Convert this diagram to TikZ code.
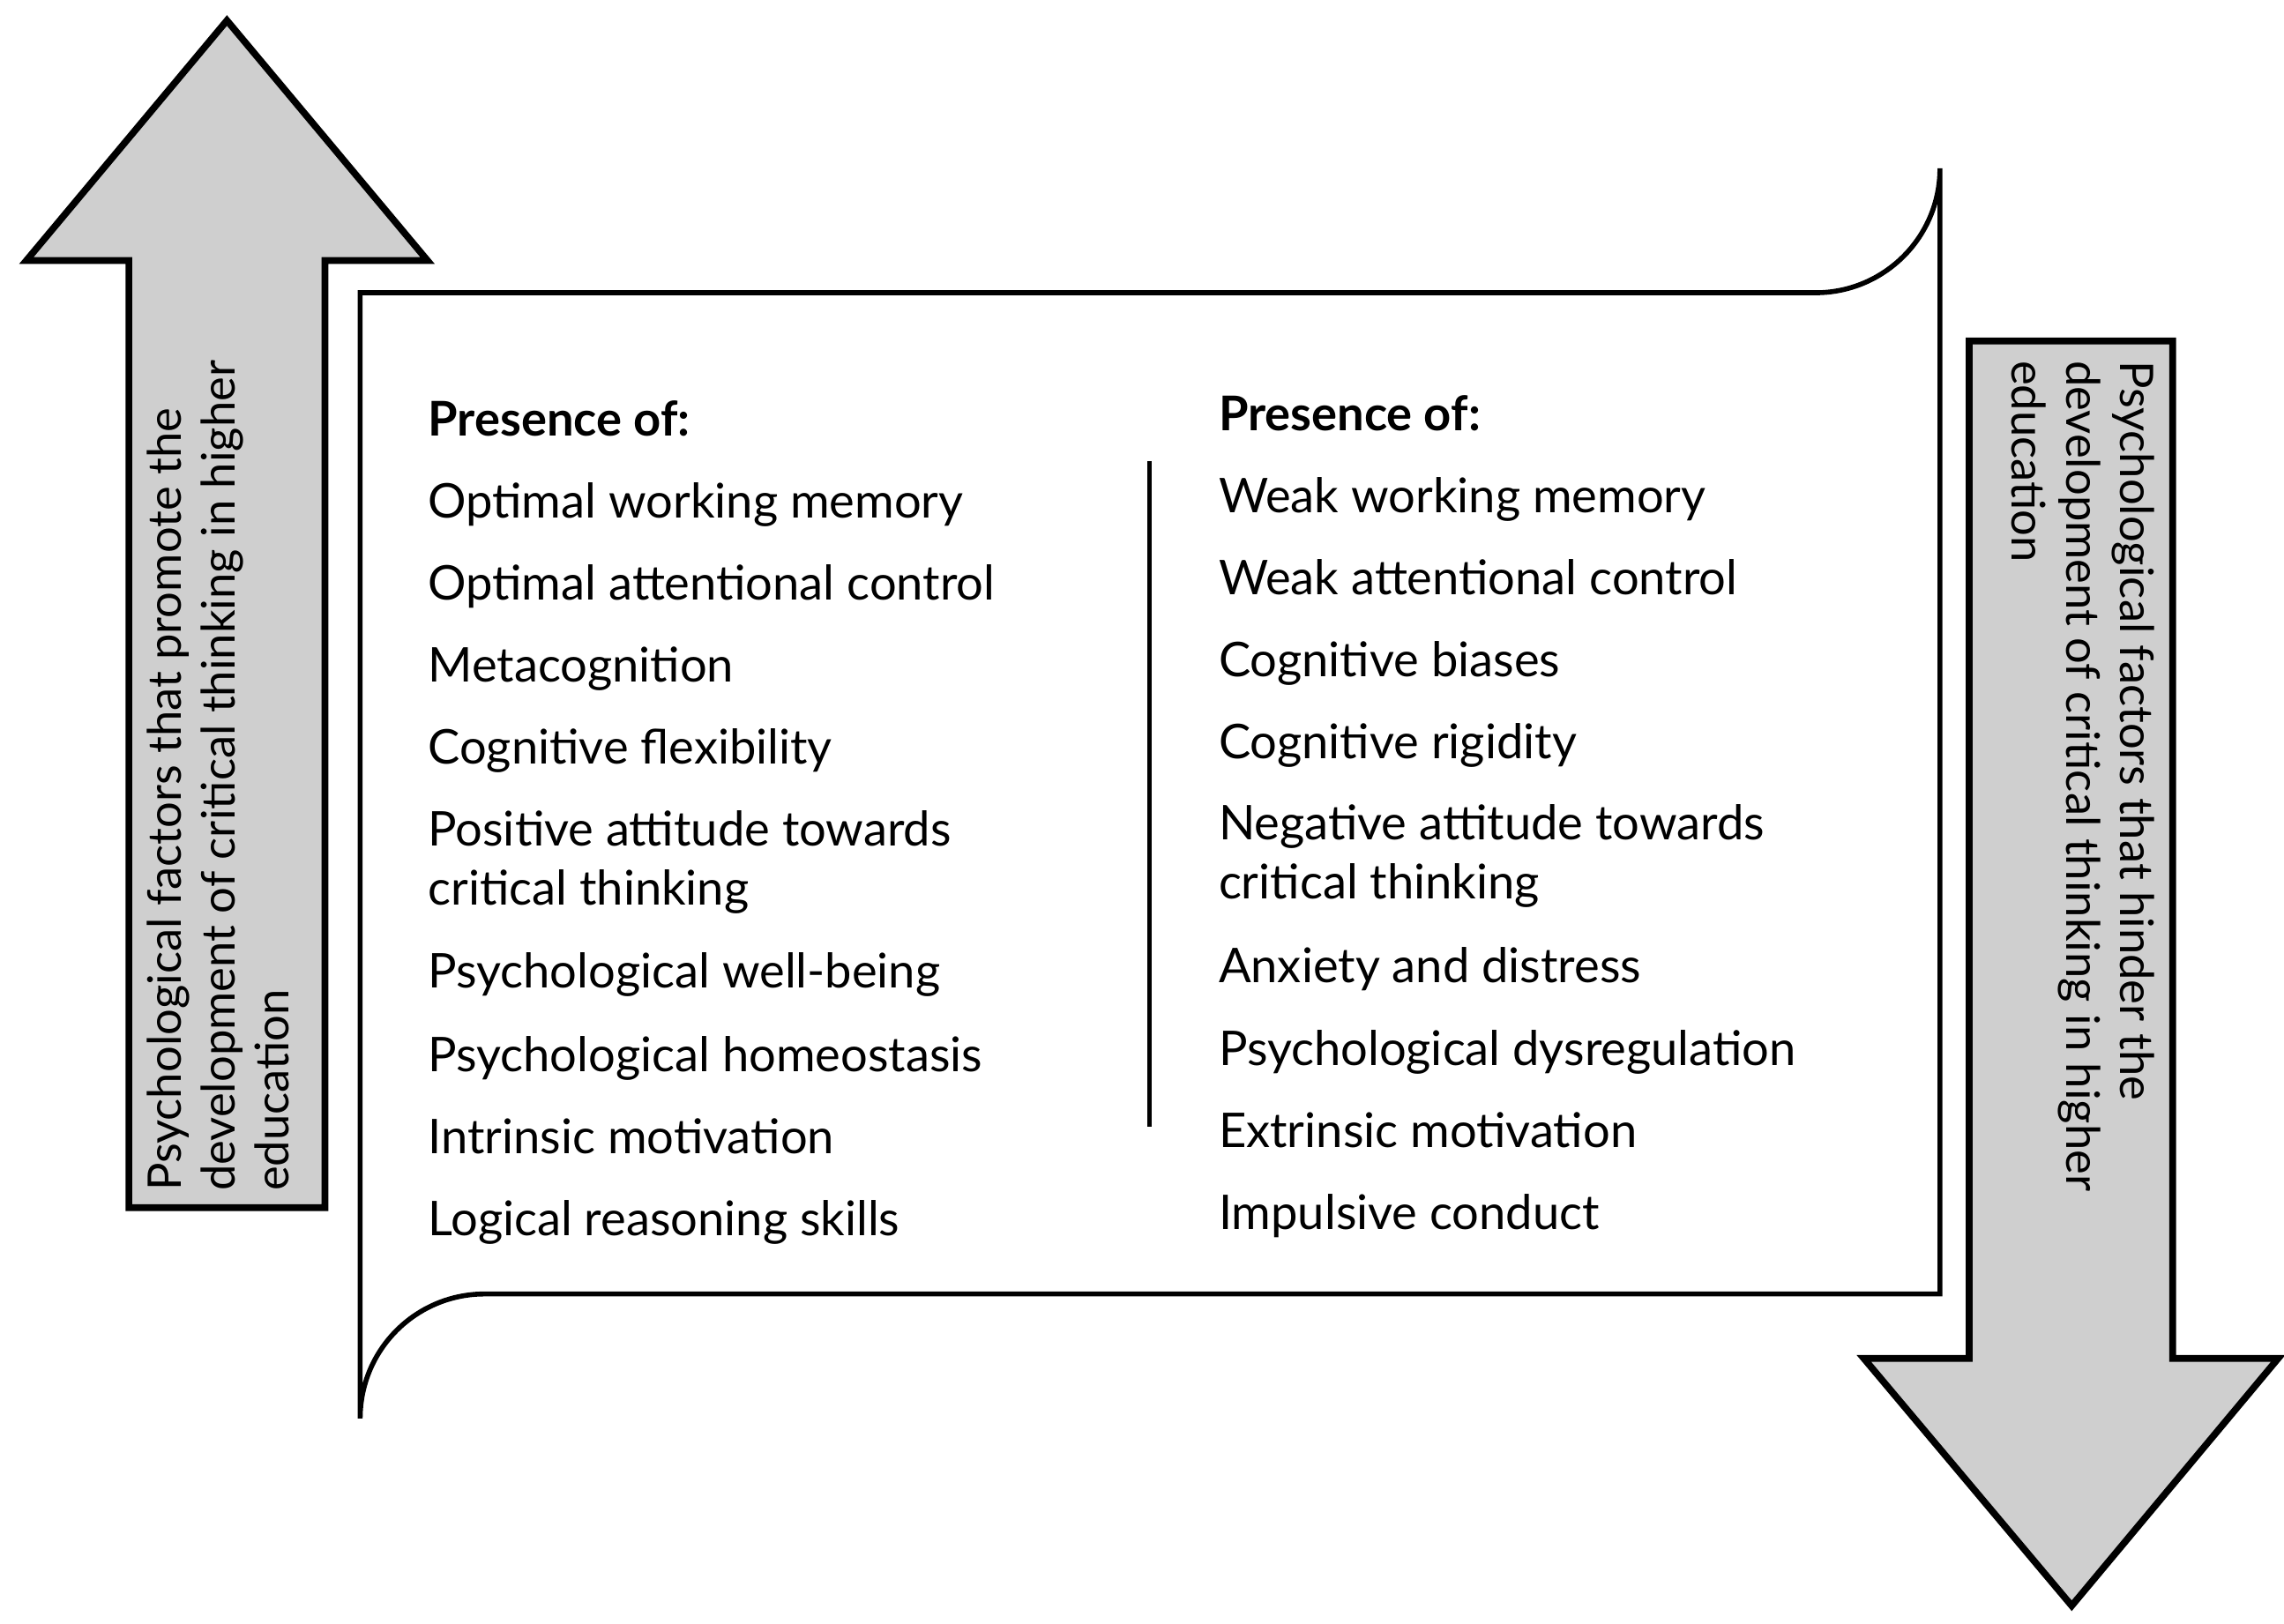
\documentclass[tikz,border=0pt]{standalone}
\usepackage{fontspec}
\setmainfont{Lato}
\usetikzlibrary{positioning}
\tikzset{
  bigarrow/.style={draw=black,line width=2.2pt,fill=gray!38,line join=miter},
  item/.style={anchor=base west,inner sep=0pt,font=\fontsize{15.5}{19}\selectfont},
  head/.style={item,font=\fontsize{15.5}{19}\selectfont\bfseries},
  side/.style={inner sep=0pt,align=left,font=\fontsize{15}{17.5}\selectfont}
}
\begin{document}
\begin{tikzpicture}[x=0.016667cm,y=-0.016667cm]
        \useasboundingbox (0,0) rectangle (1560,1109);
        % arrows
        \draw[bigarrow] (88,825) -- (88,178) -- (18,178) -- (155,14) -- (292,178) -- (222,178) -- (222,825) -- cycle;
        \draw[bigarrow] (1345,233) -- (1345,928) -- (1273,928) -- (1415,1097) -- (1556,928) -- (1484,928) -- (1484,233) -- cycle;
        % box
        \draw[line width=1.6pt,rounded corners=0pt] (246,200) -- (1240,200) arc (90:0:85) -- (1325,884) -- (331,884) arc (270:180:85) -- cycle;
        \coordinate (dtop) at (785,315);
        \coordinate (dbot) at (785,770);
        \draw[line width=1.6pt] (dtop) -- (dbot);

		\node[head] (lhead) at (292,298) {Presence of:};
		\node[head] (rhead) at (832,294) {Presence of:};
		\foreach \t/\y [count=\i] in {Optimal working memory/354,Optimal attentional control/410,Metacognition/466,Cognitive flexibility/522,Positive attitude towards/578,critical thinking/618,Psychological well-being/675,Psychological homeostasis/732,Intrinsic motivation/788,Logical reasoning skills/844}
		  \node[item] (l\i) at (292,\y) {\t};
		\foreach \t/\y [count=\i] in {Weak working memory/350,Weak attentional control/406,Cognitive biases/462,Cognitive rigidity/518,Negative attitude towards/574,critical thinking/614,Anxiety and distress/671,Psychological dysregulation/728,Extrinsic motivation/784,Impulsive conduct/840}
		  \node[item] (r\i) at (832,\y) {\t};

		\node[side,rotate=90,anchor=north west] (ltext) at (100,814) {Psychological factors that promote the\\development of critical thinking in higher\\education};
		\node[side,rotate=-90,anchor=north west] (rtext) at (1472,246) {Psychological factors that hinder the\\development of critical thinking in higher\\education};
\end{tikzpicture}
\end{document}
